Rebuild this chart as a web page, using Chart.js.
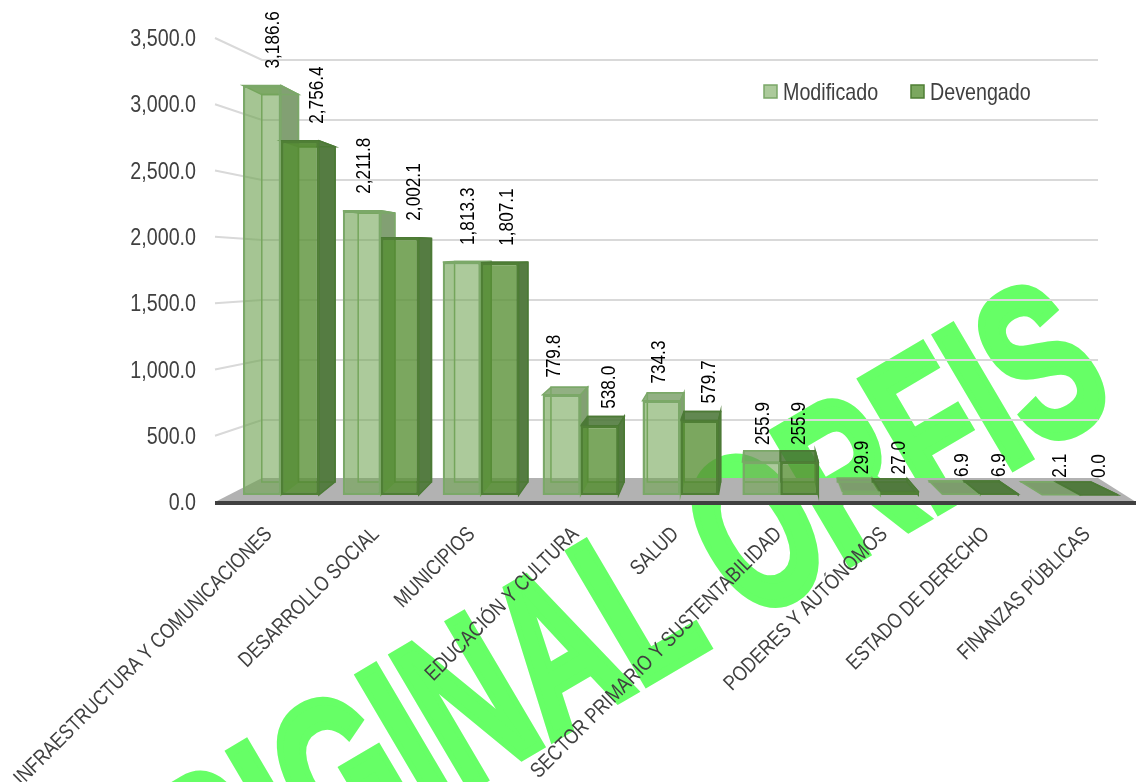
<!DOCTYPE html>
<html>
<head>
  <meta charset="utf-8">
  <title>Modificado y Devengado</title>
  <script src="https://cdn.jsdelivr.net/npm/chart.js"></script>
  <style>
    body { margin: 0; background: white; }
    canvas { display: block; }
  </style>
</head>
<body>
  <canvas id="chart" width="1136" height="782"></canvas>
  <script>
    const categories = [
      "INFRAESTRUCTURA Y COMUNICACIONES", "DESARROLLO SOCIAL", "MUNICIPIOS",
      "EDUCACIÓN Y CULTURA", "SALUD", "SECTOR PRIMARIO Y SUSTENTABILIDAD",
      "PODERES Y AUTÓNOMOS", "ESTADO DE DERECHO", "FINANZAS PÚBLICAS"
    ];
    const modificado = [3186.6, 2211.8, 1813.3, 779.8, 734.3, 255.9, 29.9, 6.9, 2.1];
    const devengado = [2756.4, 2002.1, 1807.1, 538.0, 579.7, 255.9, 27.0, 6.9, 0.0];
    const yTicks = [0, 500, 1000, 1500, 2000, 2500, 3000, 3500];

    // labels don't sit centred on their bars/ticks in the original
    const labelNudge = [
      [11, 2, 6, -7, -2, 2, 1, 1, -1],
      [17, 14, 8, 10, 10, 0, 0, 0, 0]
    ];
    const tickNudge = [-12, -5, -9, -5, -5, -2, 4, 6, 7];

    const FONT = '"Liberation Sans", Arial, sans-serif';
    const NARROW = 0.82; // no narrow face installed, so squeeze the regular one
    const fmt = v => v.toLocaleString("en-US", { minimumFractionDigits: 1, maximumFractionDigits: 1 });

    // perspective of the fake 3D: back face is pulled toward this point
    const VP_X = 780, VP_Y = 253;
    const backX = x => x + (VP_X - x) * (x < VP_X ? 0.035 : 0.08);
    const backY = y => y + (VP_Y - y) * 0.054;

    const styles = [
      { wall: "rgba(125,170,100,0.12)", side: "#82a073", top: "rgba(110,150,90,0.75)", edge: "#7ba868" },
      { wall: "rgba(70,125,40,0.35)", side: "#557c42", top: "rgba(70,115,50,0.85)", edge: "#4c7a36" }
    ];

    function poly(ctx, pts, fill, stroke) {
      ctx.beginPath();
      pts.forEach((p, i) => i ? ctx.lineTo(p[0], p[1]) : ctx.moveTo(p[0], p[1]));
      ctx.closePath();
      if (fill) { ctx.fillStyle = fill; ctx.fill(); }
      if (stroke) { ctx.strokeStyle = stroke; ctx.lineWidth = 1.5; ctx.stroke(); }
    }

    function squeezed(ctx, text, x, y, size, color, align, angle) {
      ctx.save();
      ctx.translate(x, y);
      ctx.rotate((angle || 0) * Math.PI / 180);
      ctx.scale(NARROW, 1);
      ctx.font = size + "px " + FONT;
      ctx.fillStyle = color;
      ctx.textAlign = align;
      ctx.textBaseline = "middle";
      ctx.fillText(text, 0, 0);
      ctx.restore();
    }

    const watermark = {
      id: "watermark",
      beforeDraw(chart) {
        const ctx = chart.ctx;
        ctx.save();
        ctx.translate(1120, 404);
        ctx.rotate(-30.5 * Math.PI / 180);
        ctx.scale(0.645, 1);
        ctx.font = "bold 220px 'Liberation Sans', sans-serif";
        ctx.textAlign = "right";
        ctx.textBaseline = "alphabetic";
        ctx.fillStyle = "#66ff66";
        ctx.strokeStyle = "#66ff66";
        ctx.lineWidth = 9;
        ctx.lineJoin = "miter";
        ctx.fillText("ORIGINAL ORFIS", 0, 0);
        ctx.strokeText("ORIGINAL ORFIS", 0, 0);
        ctx.restore();
      }
    };

    const wall3d = {
      id: "wall3d",
      beforeDatasetsDraw(chart) {
        const ctx = chart.ctx;
        const { y, yBack } = chart.scales;
        ctx.save();
        // floor
        const fy = yBack.getPixelForValue(0);
        poly(ctx, [[215, 502], [262, fy - 2], [1098, fy - 2], [1136, 502]], "#b2b2b2");
        // grid lines, running back from the axis and along the wall
        ctx.strokeStyle = "#d9d9d9";
        ctx.lineWidth = 2;
        yTicks.forEach(v => {
          const wy = yBack.getPixelForValue(v);
          if (v > 0) {
            ctx.beginPath();
            ctx.moveTo(215, y.getPixelForValue(v));
            ctx.lineTo(262, wy);
            ctx.lineTo(1098, wy);
            ctx.stroke();
          }
        });
        // axis
        ctx.fillStyle = "#404040";
        ctx.fillRect(215, 501, 921, 4);
        // inner faces of the bars, seen through the front
        [0, 1].forEach(d => {
          const st = styles[d];
          chart.getDatasetMeta(d).data.forEach(bar => {
            const x0 = bar.x - bar.width / 2, x1 = bar.x + bar.width / 2;
            const yt = bar.y, yb = bar.base;
            const bx0 = backX(x0), bx1 = backX(x1), byt = backY(yt), byb = backY(yb);
            poly(ctx, [[x0, yt], [bx0, byt], [bx0, byb], [x0, yb]], st.wall);
            poly(ctx, [[x0, yb], [bx0, byb], [bx1, byb], [x1, yb]], st.wall);
            poly(ctx, [[x0, yt], [x1, yt], [bx1, byt], [bx0, byt]], st.top, st.edge);
            poly(ctx, [[x1, yt], [bx1, byt], [bx1, byb], [x1, yb]], st.side, st.edge);
            poly(ctx, [[bx0, byt], [bx1, byt], [bx1, byb], [bx0, byb]], null, st.edge);
          });
        });
        ctx.restore();

        // tick labels
        const xs = chart.scales.x;
        categories.forEach((c, i) => {
          squeezed(ctx, c, xs.getPixelForTick(i) + tickNudge[i], 531, 21.3, "#404040", "right", -45);
        });
        yTicks.forEach(v => {
          squeezed(ctx, fmt(v), 196, y.getPixelForValue(v) + 1.5, 24, "#404040", "right");
        });

        // legend
        let lx = 764;
        chart.data.datasets.forEach(ds => {
          poly(ctx, [[lx, 85], [lx + 13, 85], [lx + 13, 98], [lx, 98]], ds.backgroundColor, ds.borderColor);
          squeezed(ctx, ds.label, lx + 19, 93, 24, "#404040", "left");
          lx += 147;
        });
      },
      afterDatasetsDraw(chart) {
        const ctx = chart.ctx;
        [modificado, devengado].forEach((vals, d) => {
          chart.getDatasetMeta(d).data.forEach((bar, i) => {
            squeezed(ctx, fmt(vals[i]), bar.x + labelNudge[d][i], bar.y - 17, 21, "#000", "left", -90);
          });
        });
      }
    };

    new Chart(document.getElementById("chart").getContext("2d"), {
      type: "bar",
      data: {
        labels: categories,
        datasets: [
          { label: "Modificado", data: modificado, yAxisID: "yFront",
            backgroundColor: "rgba(112,164,82,0.58)", borderColor: "#7ba868" },
          { label: "Devengado", data: devengado, yAxisID: "yFront",
            backgroundColor: "rgba(90,145,55,0.8)", borderColor: "#4f7f35" }
        ]
      },
      plugins: [watermark, wall3d],
      options: {
        responsive: false,
        animation: false,
        layout: { padding: { top: 38, right: 6, left: 0, bottom: 0 } },
        datasets: { bar: { categoryPercentage: 0.76, barPercentage: 1, borderWidth: 2.5, borderSkipped: false } },
        plugins: {
          tooltip: { enabled: false },
          legend: { display: false }
        },
        scales: {
          x: {
            afterFit(s) { s.height = 280; },
            grid: { display: false },
            border: { display: false },
            ticks: { display: false, autoSkip: false }
          },
          y: {
            min: 0, max: 3500,
            afterFit(s) { s.width = 231; },
            grid: { display: false },
            border: { display: false },
            ticks: { display: false, stepSize: 500 }
          },
          // bars stand on a floor a little in front of the axis
          yFront: { display: false, min: -54.5, max: 3556.4 },
          // back wall, squeezed by the perspective
          yBack: { display: false, min: -183.3, max: 3683.3 }
        }
      }
    });
  </script>
</body>
</html>
